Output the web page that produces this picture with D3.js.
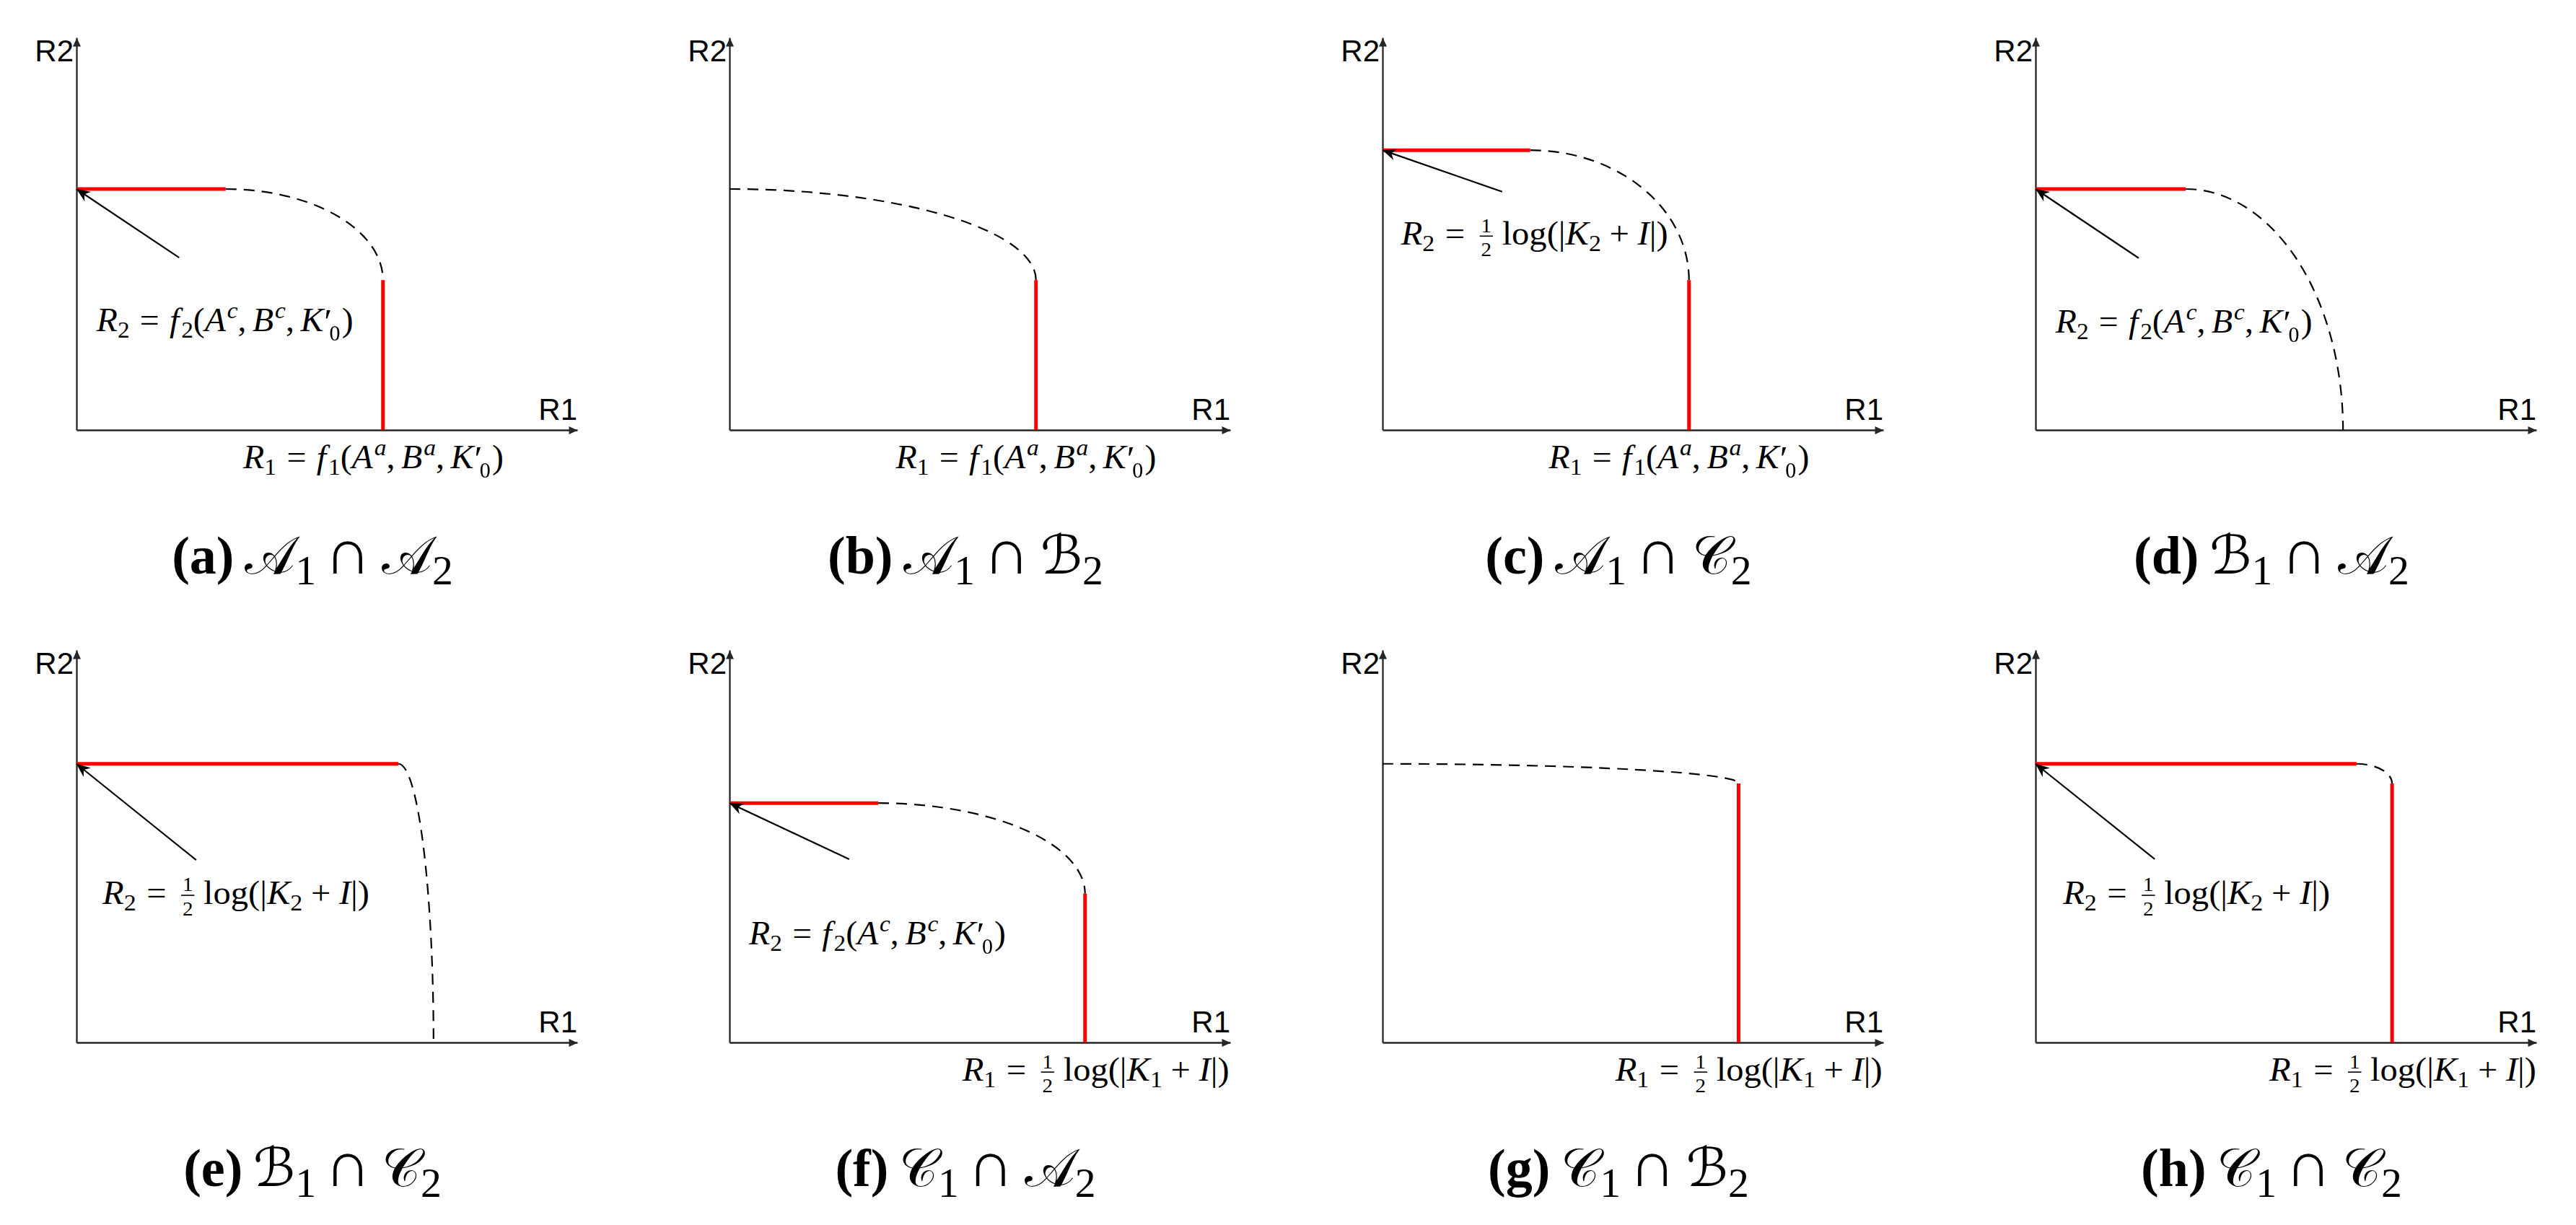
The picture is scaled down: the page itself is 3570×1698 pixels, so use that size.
<!DOCTYPE html>
<html>
<head>
<meta charset="utf-8">
<script src="https://cdn.jsdelivr.net/npm/d3@7"></script>
<style>
	body { margin: 0; background: #fff; }
</style>
</head>
<body>
<div id="chart"></div>
<script>
// values are in % of the axis length (0..100 on both axes)
var letters = ['a', 'b', 'c', 'd', 'e', 'f', 'g', 'h'];
var capFirst = ['𝒜', '𝒜', '𝒜', 'ℬ', 'ℬ', '𝒞', '𝒞', '𝒞'];
var capSecond = ['𝒜', 'ℬ', '𝒞', '𝒜', '𝒞', '𝒜', 'ℬ', '𝒞'];

// end of the R2 corner segment and its height
var r2End = [29.8, 0, 29.5, 30.0, 64.3, 29.7, 0, 64.1];
var r2Level = [61.4, 61.4, 71.3, 61.4, 71.0, 61.0, 71.0, 71.0];
// position of the R1 corner segment and its top
var r1Pos = [61.2, 61.2, 61.2, 61.4, 71.3, 71.0, 71.1, 71.2];
var r1Top = [38.2, 38.2, 38.2, 0, 0, 37.9, 66.0, 66.0];
var redR2 = [1, 0, 1, 1, 1, 1, 0, 1];
var redR1 = [1, 1, 1, 0, 0, 1, 1, 1];

// annotation arrow tails (head sits on the R2 axis at r2Level)
var arrowTailX = [20.5, null, 23.9, 20.6, 23.9, 23.9, null, 23.8];
var arrowTailY = [43.9, null, 60.7, 43.8, 46.5, 46.7, null, 46.7];

// formula labels
var r2Label = ['f2', null, 'log2', 'f2', 'log2', 'f2', null, 'log2'];
var r2LabelX = [4.0, null, 3.7, 4.0, 5.2, 3.9, null, 5.5];
var r2LabelY = [25.2, null, 47.2, 24.8, 35.3, 25.0, null, 35.3];
var r1Label = ['f1', 'f1', 'f1', null, null, 'log1', 'log1', 'log1'];
var r1LabelX = [33.3, 33.2, 33.2, null, null, 46.5, 46.5, 46.7];

var formulas = {
	f1: [{t: 'R', k: 'i'}, {t: '1', k: 'sub'}, {k: 'op', t: '='}, {t: 'f', k: 'i'}, {t: '1', k: 'sub'}, {t: '('},
		{t: 'A', k: 'i'}, {t: 'a', k: 'supi'}, {t: ',', k: 'comma'}, {t: 'B', k: 'i'}, {t: 'a', k: 'supi'}, {t: ',', k: 'comma'},
		{t: 'K', k: 'i'}, {k: 'primesub', t: '′₀'}, {t: ')'}],
	f2: [{t: 'R', k: 'i'}, {t: '2', k: 'sub'}, {k: 'op', t: '='}, {t: 'f', k: 'i'}, {t: '2', k: 'sub'}, {t: '('},
		{t: 'A', k: 'i'}, {t: 'c', k: 'supi'}, {t: ',', k: 'comma'}, {t: 'B', k: 'i'}, {t: 'c', k: 'supi'}, {t: ',', k: 'comma'},
		{t: 'K', k: 'i'}, {k: 'primesub', t: '′₀'}, {t: ')'}],
	log1: [{t: 'R', k: 'i'}, {t: '1', k: 'sub'}, {k: 'op', t: '='}, {k: 'frac', n: '1', d: '2'}, {t: 'log'}, {t: '('}, {t: '|'},
		{t: 'K', k: 'i'}, {t: '1', k: 'sub'}, {k: 'bin', t: '+'}, {t: 'I', k: 'i'}, {t: '|'}, {t: ')'}],
	log2: [{t: 'R', k: 'i'}, {t: '2', k: 'sub'}, {k: 'op', t: '='}, {k: 'frac', n: '1', d: '2'}, {t: 'log'}, {t: '('}, {t: '|'},
		{t: 'K', k: 'i'}, {t: '2', k: 'sub'}, {k: 'bin', t: '+'}, {t: 'I', k: 'i'}, {t: '|'}, {t: ')'}]
};
// rendered width of each formula in the figure (px)
var formulaWidth = {f1: 362, f2: 357, log1: 371, log2: 371};

var width = 3570;
var height = 1698;
var axisW = 694, axisH = 544;
var colStep = 905, rowStep = 849;
var mathFont = 'Liberation Serif';
var mathSize = 46;
var capSize = 74;

var svg = d3.select('#chart')
	.append('svg')
	.attr('width', width)
	.attr('height', height);

var defs = svg.append('defs');

defs.append('marker')
	.attr('id', 'axis-head')
	.attr('markerUnits', 'userSpaceOnUse')
	.attr('viewBox', '-13 -7 14 14')
	.attr('markerWidth', 14)
	.attr('markerHeight', 14)
	.attr('refX', 0)
	.attr('refY', 0)
	.attr('orient', 'auto')
	.append('path')
	.attr('d', 'M0,0 L-12,-5.5 L-12,5.5 Z')
	.attr('fill', '#262626');

defs.append('marker')
	.attr('id', 'note-head')
	.attr('markerUnits', 'userSpaceOnUse')
	.attr('viewBox', '-20 -10 21 20')
	.attr('markerWidth', 21)
	.attr('markerHeight', 20)
	.attr('refX', 0)
	.attr('refY', 0)
	.attr('orient', 'auto')
	.append('path')
	.attr('d', 'M0,0 L-19,-8 L-13,0 L-19,8 Z')
	.attr('fill', '#000');

// one <text> per formula, tokens become tspans; returns the width
function drawMath(g, tokens, fs) {
	var text = g.append('text').attr('font-size', fs);
	var cur = 0, chars = 0, pending = 0, bars = [];

	function span(str, size, dy, italic) {
		var s = text.append('tspan')
			.attr('font-size', size)
			.attr('dy', dy - cur)
			.attr('font-style', italic ? 'italic' : 'normal')
			.text(str);
		if (pending) s.attr('dx', pending);
		pending = 0;
		cur = dy;
		chars += str.length;
		return s;
	}

	tokens.forEach(function(tok) {
		switch (tok.k) {
			case 'frac':
				pending += fs * 0.16;
				bars.push(chars);
				span(tok.n, fs * 0.6, -fs * 0.38);
				pending = -fs * 0.3;
				span(tok.d, fs * 0.6, fs * 0.34);
				pending = fs * 0.3;
				break;
			case 'primesub':
				// prime and subscript zero in one run, pulled together
				pending += fs * 0.02;
				span(tok.t, fs * 1.05, fs * 0.06).attr('letter-spacing', -fs * 0.1);
				pending = fs * 0.12;
				break;
			case 'sub':
				span(tok.t, fs * 0.7, fs * 0.2);
				break;
			case 'supi':
				pending += fs * 0.04;
				span(tok.t, fs * 0.7, -fs * 0.4, true);
				break;
			case 'op':
			case 'bin':
				var gap = fs * (tok.k === 'op' ? 0.3 : 0.24);
				pending += gap;
				span(tok.t, fs, 0);
				pending = gap;
				break;
			case 'comma':
				span(tok.t, fs, 0);
				pending = fs * 0.18;
				break;
			case 'i':
				span(tok.t, fs, 0, true);
				if (tok.t === 'f') pending = fs * 0.06;
				break;
			default:
				span(tok.t, fs, 0);
		}
	});

	bars.forEach(function(idx) {
		var p = text.node().getStartPositionOfChar(idx);
		g.append('line')
			.attr('x1', p.x - fs * 0.04).attr('x2', p.x + fs * 0.34)
			.attr('y1', -fs * 0.26).attr('y2', -fs * 0.26)
			.attr('stroke', '#000').attr('stroke-width', fs * 0.035);
	});
	return text.node().getBBox().width;
}

function placeFormula(panel, key, px, py) {
	var g = panel.append('g').attr('font-family', mathFont);
	var w = drawMath(g, formulas[key], mathSize);
	var sx = formulaWidth[key] / w;
	g.attr('transform', 'translate(' + px + ',' + py + ') scale(' + sx + ',1)');
}

function drawCaption(panel, i, cx, cy) {
	var g = panel.append('g').attr('font-family', mathFont);
	var text = g.append('text').attr('font-size', capSize);
	text.append('tspan').attr('font-weight', 'bold').text('(' + letters[i] + ')');
	text.append('tspan').attr('dx', capSize * 0.2)
		.attr('font-family', 'DejaVu Serif, DejaVu Sans, serif').text(capFirst[i]);
	text.append('tspan').attr('font-size', capSize * 0.78).attr('dy', capSize * 0.2).text('1');
	text.append('tspan').attr('dx', capSize * 0.16).attr('dy', -capSize * 0.2)
		.attr('font-size', capSize * 1.2).text('∩');
	text.append('tspan').attr('dx', capSize * 0.2)
		.attr('font-family', 'DejaVu Serif, DejaVu Sans, serif').text(capSecond[i]);
	text.append('tspan').attr('font-size', capSize * 0.78).attr('dy', capSize * 0.2).text('2');
	var w = text.node().getBBox().width;
	g.attr('transform', 'translate(' + (cx - w / 2) + ',' + cy + ')');
}

letters.forEach(function(letter, i) {
	var col = i % 4, row = Math.floor(i / 4);
	var ox = 106 + col * colStep;
	var oy = 596 + row * rowStep;

	var x = d3.scaleLinear().domain([0, 100]).range([ox, ox + axisW]);
	var y = d3.scaleLinear().domain([0, 100]).range([oy, oy - axisH]);

	var panel = svg.append('g').attr('class', 'panel-' + letter);

	// axes
	panel.append('g')
		.attr('transform', 'translate(0,' + oy + ')')
		.call(d3.axisBottom(x).tickValues([]).tickSizeOuter(0));
	panel.append('g')
		.attr('transform', 'translate(' + ox + ',0)')
		.call(d3.axisLeft(y).tickValues([]).tickSizeOuter(0));
	panel.selectAll('.domain')
		.attr('stroke', '#262626')
		.attr('stroke-width', 2.3)
		.attr('marker-end', 'url(#axis-head)');

	panel.append('text')
		.attr('x', ox - 4)
		.attr('y', y(100) + 33)
		.attr('text-anchor', 'end')
		.attr('font-family', 'Liberation Sans')
		.attr('font-size', 42)
		.text('R2');

	panel.append('text')
		.attr('x', x(100))
		.attr('y', oy - 14)
		.attr('text-anchor', 'end')
		.attr('font-family', 'Liberation Sans')
		.attr('font-size', 42)
		.text('R1');

	// dashed boundary between the two corners
	var x1 = x(r2End[i]), y1 = y(r2Level[i]);
	var x2 = x(r1Pos[i]), y2 = y(r1Top[i]);
	panel.append('path')
		.attr('d', 'M' + x1 + ',' + y1 + ' A' + (x2 - x1) + ',' + (y2 - y1) + ' 0 0 1 ' + x2 + ',' + y2)
		.attr('fill', 'none')
		.attr('stroke', '#000')
		.attr('stroke-width', 2.2)
		.attr('stroke-dasharray', '15,10');

	// red corner segments
	if (redR2[i]) {
		panel.append('line')
			.attr('x1', x(0)).attr('x2', x(r2End[i]))
			.attr('y1', y(r2Level[i])).attr('y2', y(r2Level[i]))
			.attr('stroke', '#ff0000')
			.attr('stroke-width', 5);
	}
	if (redR1[i]) {
		panel.append('line')
			.attr('x1', x(r1Pos[i])).attr('x2', x(r1Pos[i]))
			.attr('y1', y(r1Top[i])).attr('y2', y(0))
			.attr('stroke', '#ff0000')
			.attr('stroke-width', 5);
	}

	// annotation arrow
	if (arrowTailX[i] !== null) {
		panel.append('line')
			.attr('x1', x(arrowTailX[i])).attr('y1', y(arrowTailY[i]))
			.attr('x2', x(0)).attr('y2', y(r2Level[i]))
			.attr('stroke', '#000')
			.attr('stroke-width', 2.2)
			.attr('marker-end', 'url(#note-head)');
	}

	// formula labels
	if (r2Label[i]) placeFormula(panel, r2Label[i], x(r2LabelX[i]), y(r2LabelY[i]));
	if (r1Label[i]) placeFormula(panel, r1Label[i], x(r1LabelX[i]), oy + 53);

	drawCaption(panel, i, ox + 327, oy + 199);
});
</script>
</body>
</html>
